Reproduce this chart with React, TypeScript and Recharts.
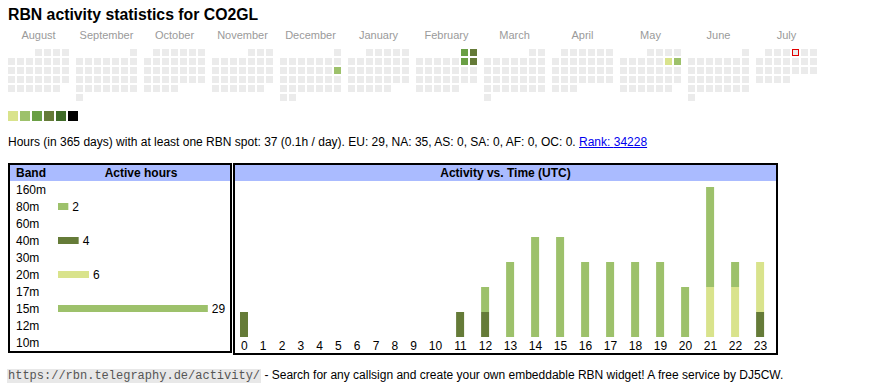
import React from 'react';
import { ScatterChart, Scatter, XAxis, YAxis, BarChart, Bar, Cell, LabelList } from 'recharts';

const FONT = '"Liberation Sans", Arial, Helvetica, sans-serif';

// ---------- data ----------
const callsign = 'CO2GL';
const calendarStart = '2024-08-01';
const calendarEnd = '2025-07-24';
const monthNames = ['August', 'September', 'October', 'November', 'December', 'January', 'February', 'March', 'April', 'May', 'June', 'July'];
const activeDates = ['2024-12-15', '2025-02-01', '2025-02-02', '2025-02-08', '2025-02-09', '2025-05-10', '2025-05-11'];
const activeLevels = [2, 3, 4, 3, 4, 1, 2];
const markedDate = '2025-07-04';

const summaryDays = 365;
const summaryHours = 37;
const summaryPerDay = '0.1';
const continentNames = ['EU', 'NA', 'AS', 'SA', 'AF', 'OC'];
const continentHours = [29, 35, 0, 0, 0, 0];
const rank = 34228;

const bands = ['160m', '80m', '60m', '40m', '30m', '20m', '17m', '15m', '12m', '10m'];
const bandHours = [0, 2, 0, 4, 0, 6, 0, 29, 0, 0];

const hourLabels = ['0', '1', '2', '3', '4', '5', '6', '7', '8', '9', '10', '11', '12', '13', '14', '15', '16', '17', '18', '19', '20', '21', '22', '23'];
const hours80m = [0, 0, 0, 0, 0, 0, 0, 0, 0, 0, 0, 0, 0, 0, 0, 0, 0, 0, 0, 1, 1, 0, 0, 0];
const hours40m = [1, 0, 0, 0, 0, 0, 0, 0, 0, 0, 0, 1, 1, 0, 0, 0, 0, 0, 0, 0, 0, 0, 0, 1];
const hours20m = [0, 0, 0, 0, 0, 0, 0, 0, 0, 0, 0, 0, 0, 0, 0, 0, 0, 0, 0, 0, 0, 2, 2, 2];
const hours15m = [0, 0, 0, 0, 0, 0, 0, 0, 0, 0, 0, 0, 1, 3, 4, 4, 3, 3, 3, 2, 1, 4, 1, 0];

// ---------- styles ----------
const levelColors = ['#ebebeb', '#d9e38c', '#9dc16b', '#6a9f45', '#657b38', '#3f6b28', '#000000'];
const bandColors: Record<string, string> = {
  '160m': '#9dc16b', '80m': '#9dc16b', '60m': '#9dc16b', '40m': '#657b38', '30m': '#9dc16b',
  '20m': '#d9e38c', '17m': '#9dc16b', '15m': '#9dc16b', '12m': '#9dc16b', '10m': '#9dc16b',
};
const HEADER_BG = '#aabbff';

// calendar layout
const CELL_PITCH = 9; // px per day column / week row
const MONTH_STEP = 68 / CELL_PITCH; // one month block = 7 columns + gap
const CAL_W = 870;
const CAL_H = 110;
const CAL_X0 = -11.5 / CELL_PITCH;
const CAL_Y0 = -52.5 / CELL_PITCH;
const LABEL_ROW = -1.92;

function parseUTC(s: string) {
  return new Date(s + 'T00:00:00Z');
}

function buildCalendar() {
  const cells: any[] = [];
  const start = parseUTC(calendarStart);
  const end = parseUTC(calendarEnd);
  const sy = start.getUTCFullYear();
  const sm = start.getUTCMonth();
  for (let t = start.getTime(); t <= end.getTime(); t += 86400000) {
    const d = new Date(t);
    const y = d.getUTCFullYear();
    const m = d.getUTCMonth();
    const day = d.getUTCDate();
    const monthIdx = (y - sy) * 12 + (m - sm);
    const firstDow = (new Date(Date.UTC(y, m, 1)).getUTCDay() + 6) % 7;
    const dow = (d.getUTCDay() + 6) % 7;
    const row = Math.floor((day - 1 + firstDow) / 7);
    const iso = d.toISOString().slice(0, 10);
    const ai = activeDates.indexOf(iso);
    cells.push({ col: monthIdx * MONTH_STEP + dow, row, level: ai >= 0 ? activeLevels[ai] : 0, marked: iso === markedDate });
  }
  return cells;
}

const calendarCells = buildCalendar();
const monthLabelData = monthNames.map((name, i) => ({ col: i * MONTH_STEP + 3, row: LABEL_ROW, name }));

const DayShape = (props: any) => {
  const { cx, cy, payload } = props;
  if (payload.marked) {
    return <rect x={cx - 3} y={cy - 3} width={6} height={6} fill={levelColors[payload.level]} stroke="#e00000" strokeWidth={1} />;
  }
  return <rect x={cx - 3.5} y={cy - 3.5} width={7} height={7} fill={levelColors[payload.level]} />;
};

const MonthLabel = (props: any) => {
  const { cx, cy, payload } = props;
  return (
    <text x={cx} y={cy + 4} textAnchor="middle" fontSize={11} fill="#9a9a9a" fontFamily={FONT}>
      {payload.name}
    </text>
  );
};

// band chart
const bandData = bands.map((b, i) => ({ band: b, hours: bandHours[i] }));

const BandTick = (props: any) => {
  const { y, payload } = props;
  return (
    <text x={6} y={y} dy="0.355em" textAnchor="start" fontSize={12} fill="#000" fontFamily={FONT}>
      {payload.value}
    </text>
  );
};

// activity chart: table-like columns, width grows with the label length
const colWidth = (label: string) => 12.6 + 6.2 * label.length;
const hourPositions: number[] = [];
{
  let acc = 0;
  hourLabels.forEach((l) => {
    const w = colWidth(l);
    hourPositions.push(acc + w / 2);
    acc += w;
  });
}
const activityData = hourLabels.map((l, i) => ({
  hour: l,
  pos: hourPositions[i],
  b80: hours80m[i],
  b40: hours40m[i],
  b20: hours20m[i],
  b15: hours15m[i],
}));

const abs = (left: number, top: number, extra: React.CSSProperties = {}): React.CSSProperties => ({
  position: 'absolute', left, top, ...extra,
});

export default function App() {
  return (
    <div style={{ position: 'absolute', left: 0, top: 0, width: 870, height: 390, background: '#fff', fontFamily: FONT, color: '#000' }}>
      <div style={abs(8, 6, { fontSize: 15.8, fontWeight: 'bold', lineHeight: '18px', whiteSpace: 'nowrap' })}>
        RBN activity statistics for {callsign}
      </div>

      <div style={abs(0, 0)}>
        <ScatterChart width={CAL_W} height={CAL_H} margin={{ top: 0, right: 0, bottom: 0, left: 0 }}>
          <XAxis type="number" dataKey="col" hide domain={[CAL_X0, CAL_X0 + CAL_W / CELL_PITCH]} allowDataOverflow />
          <YAxis type="number" dataKey="row" hide reversed domain={[CAL_Y0, CAL_Y0 + CAL_H / CELL_PITCH]} allowDataOverflow />
          <Scatter data={calendarCells} shape={DayShape} isAnimationActive={false} />
          <Scatter data={monthLabelData} shape={MonthLabel} isAnimationActive={false} />
        </ScatterChart>
      </div>

      {levelColors.slice(1).map((c, i) => (
        <div key={i} style={abs(8 + 12 * i, 111, { width: 10, height: 10, background: c })} />
      ))}

      <div style={abs(8, 135, { fontSize: 12, lineHeight: '14px', whiteSpace: 'nowrap' })}>
        Hours (in {summaryDays} days) with at least one RBN spot: {summaryHours} ({summaryPerDay}h / day).{' '}
        {continentNames.map((c, i) => `${c}: ${continentHours[i]}`).join(', ')}.{' '}
        <a href="#" style={{ color: '#0000ee', textDecoration: 'underline' }}>Rank: {rank}</a>
      </div>

      {/* band table */}
      <div style={abs(8, 163, { width: 224, height: 190, border: '2px solid #000', boxSizing: 'border-box' })} />
      <div style={abs(10, 165, { width: 220, height: 16, background: HEADER_BG })} />
      <div style={abs(16, 165, { fontSize: 12, fontWeight: 'bold', lineHeight: '16px' })}>Band</div>
      <div style={abs(91, 165, { width: 100, textAlign: 'center', fontSize: 12, fontWeight: 'bold', lineHeight: '16px' })}>Active hours</div>
      <div style={abs(10, 181)}>
        <BarChart width={220} height={170} data={bandData} layout="vertical" margin={{ top: 0, right: 17, bottom: 0, left: 0 }}>
          <XAxis type="number" hide domain={[0, 30]} allowDataOverflow />
          <YAxis type="category" dataKey="band" width={48} axisLine={false} tickLine={false} tick={BandTick} interval={0} />
          <Bar dataKey="hours" barSize={7} isAnimationActive={false}>
            {bandData.map((d) => (
              <Cell key={d.band} fill={bandColors[d.band]} />
            ))}
            <LabelList dataKey="hours" position="right" offset={4} formatter={(v: any) => (v > 0 ? v : '')} fill="#000" fontSize={12} fontFamily={FONT} />
          </Bar>
        </BarChart>
      </div>

      {/* activity table */}
      <div style={abs(233, 163, { width: 545, height: 192, border: '2px solid #000', boxSizing: 'border-box' })} />
      <div style={abs(235, 165, { width: 541, height: 16, background: HEADER_BG })} />
      <div style={abs(235, 165, { width: 541, textAlign: 'center', fontSize: 12, fontWeight: 'bold', lineHeight: '16px' })}>Activity vs. Time (UTC)</div>
      <div style={abs(235, 181)}>
        <BarChart width={541} height={172} data={activityData} margin={{ top: 6, right: 0, bottom: 0, left: 0 }}>
          <XAxis
            type="number"
            dataKey="pos"
            domain={[0, 541]}
            allowDataOverflow
            ticks={hourPositions}
            interval={0}
            tickFormatter={(_v: any, i: number) => hourLabels[i]}
            height={16}
            axisLine={false}
            tickLine={false}
            tickSize={2}
            tickMargin={2}
            tick={{ fontSize: 12, fill: '#000', fontFamily: FONT }}
          />
          <YAxis hide domain={[0, 6]} allowDataOverflow />
          <Bar dataKey="b80" stackId="a" fill={bandColors['80m']} barSize={8} isAnimationActive={false} />
          <Bar dataKey="b40" stackId="a" fill={bandColors['40m']} barSize={8} isAnimationActive={false} />
          <Bar dataKey="b20" stackId="a" fill={bandColors['20m']} barSize={8} isAnimationActive={false} />
          <Bar dataKey="b15" stackId="a" fill={bandColors['15m']} barSize={8} isAnimationActive={false} />
        </BarChart>
      </div>

      <div style={abs(7, 368, { fontSize: 12, lineHeight: '14px', whiteSpace: 'nowrap' })}>
        <span style={{ fontFamily: '"Liberation Mono", "Courier New", monospace', fontSize: 12, background: '#e8e8e8', color: '#555', padding: '0 1px' }}>
          https://rbn.telegraphy.de/activity/
        </span>
        {' '}- Search for any callsign and create your own embeddable RBN widget! A free service by DJ5CW.
      </div>
    </div>
  );
}
